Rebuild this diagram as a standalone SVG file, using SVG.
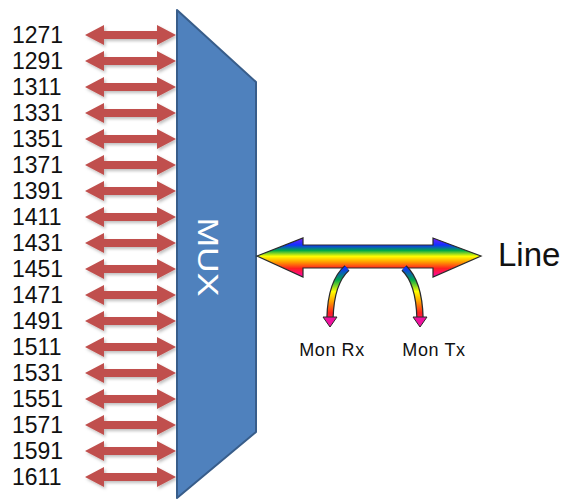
<svg xmlns="http://www.w3.org/2000/svg" xmlns:xlink="http://www.w3.org/1999/xlink" width="565" height="500" viewBox="0 0 565 500">
<style>
.lbl{font-family:"Liberation Sans",Arial,sans-serif;font-size:23px;fill:#111}
.mon{font-family:"Liberation Sans",Arial,sans-serif;font-size:18px;fill:#111;text-anchor:middle;letter-spacing:0.6px}
.ch{fill:#C0504D}
</style>
<defs>
<filter id="sh" x="-10%" y="-50%" width="130%" height="220%">
<feDropShadow dx="1.5" dy="2" stdDeviation="1.5" flood-color="#000" flood-opacity="0.25"/>
</filter>
<path id="dbl" d="M85 0 L104 -10 L104 -4 L157 -4 L157 -10 L176 0 L157 10 L157 4 L104 4 L104 10 Z"/>
<linearGradient id="rb" gradientUnits="userSpaceOnUse" x1="0" y1="238" x2="0" y2="277">
<stop offset="0" stop-color="#7a1cff"/>
<stop offset="0.18" stop-color="#1030ff"/>
<stop offset="0.32" stop-color="#00a84a"/>
<stop offset="0.47" stop-color="#ffff00"/>
<stop offset="0.62" stop-color="#ff9a00"/>
<stop offset="0.78" stop-color="#ff2020"/>
<stop offset="1" stop-color="#ff00b0"/>
</linearGradient>
<linearGradient id="rb2" gradientUnits="userSpaceOnUse" x1="0" y1="268" x2="0" y2="327">
<stop offset="0" stop-color="#1030ff"/>
<stop offset="0.2" stop-color="#00a84a"/>
<stop offset="0.4" stop-color="#ffff00"/>
<stop offset="0.58" stop-color="#ff9a00"/>
<stop offset="0.76" stop-color="#ff2020"/>
<stop offset="1" stop-color="#ff00b0"/>
</linearGradient>
</defs>
<g id="channels">
<g id="ch1271"><use xlink:href="#dbl" href="#dbl" class="ch" filter="url(#sh)" transform="translate(0,35)"/><text class="lbl" x="12" y="43">1271</text></g>
<g id="ch1291"><use xlink:href="#dbl" href="#dbl" class="ch" filter="url(#sh)" transform="translate(0,61)"/><text class="lbl" x="12" y="69">1291</text></g>
<g id="ch1311"><use xlink:href="#dbl" href="#dbl" class="ch" filter="url(#sh)" transform="translate(0,87)"/><text class="lbl" x="12" y="95">1311</text></g>
<g id="ch1331"><use xlink:href="#dbl" href="#dbl" class="ch" filter="url(#sh)" transform="translate(0,113)"/><text class="lbl" x="12" y="121">1331</text></g>
<g id="ch1351"><use xlink:href="#dbl" href="#dbl" class="ch" filter="url(#sh)" transform="translate(0,139)"/><text class="lbl" x="12" y="147">1351</text></g>
<g id="ch1371"><use xlink:href="#dbl" href="#dbl" class="ch" filter="url(#sh)" transform="translate(0,165)"/><text class="lbl" x="12" y="173">1371</text></g>
<g id="ch1391"><use xlink:href="#dbl" href="#dbl" class="ch" filter="url(#sh)" transform="translate(0,191)"/><text class="lbl" x="12" y="199">1391</text></g>
<g id="ch1411"><use xlink:href="#dbl" href="#dbl" class="ch" filter="url(#sh)" transform="translate(0,217)"/><text class="lbl" x="12" y="225">1411</text></g>
<g id="ch1431"><use xlink:href="#dbl" href="#dbl" class="ch" filter="url(#sh)" transform="translate(0,243)"/><text class="lbl" x="12" y="251">1431</text></g>
<g id="ch1451"><use xlink:href="#dbl" href="#dbl" class="ch" filter="url(#sh)" transform="translate(0,269)"/><text class="lbl" x="12" y="277">1451</text></g>
<g id="ch1471"><use xlink:href="#dbl" href="#dbl" class="ch" filter="url(#sh)" transform="translate(0,295)"/><text class="lbl" x="12" y="303">1471</text></g>
<g id="ch1491"><use xlink:href="#dbl" href="#dbl" class="ch" filter="url(#sh)" transform="translate(0,321)"/><text class="lbl" x="12" y="329">1491</text></g>
<g id="ch1511"><use xlink:href="#dbl" href="#dbl" class="ch" filter="url(#sh)" transform="translate(0,347)"/><text class="lbl" x="12" y="355">1511</text></g>
<g id="ch1531"><use xlink:href="#dbl" href="#dbl" class="ch" filter="url(#sh)" transform="translate(0,373)"/><text class="lbl" x="12" y="381">1531</text></g>
<g id="ch1551"><use xlink:href="#dbl" href="#dbl" class="ch" filter="url(#sh)" transform="translate(0,399)"/><text class="lbl" x="12" y="407">1551</text></g>
<g id="ch1571"><use xlink:href="#dbl" href="#dbl" class="ch" filter="url(#sh)" transform="translate(0,425)"/><text class="lbl" x="12" y="433">1571</text></g>
<g id="ch1591"><use xlink:href="#dbl" href="#dbl" class="ch" filter="url(#sh)" transform="translate(0,451)"/><text class="lbl" x="12" y="459">1591</text></g>
<g id="ch1611"><use xlink:href="#dbl" href="#dbl" class="ch" filter="url(#sh)" transform="translate(0,477)"/><text class="lbl" x="12" y="485">1611</text></g>
</g>
<g id="mux">
<polygon points="177,10 256,82 256,432 177,498" fill="#4F81BD" stroke="#385D8A" stroke-width="2" stroke-linejoin="round"/>
<text transform="translate(198,257) rotate(90)" x="0" y="0" text-anchor="middle" font-family="'Liberation Sans',Arial,sans-serif" font-size="29" textLength="79" lengthAdjust="spacingAndGlyphs" fill="#ffffff">MUX</text>
</g>
<g id="connectors">
<polygon points="257,256 303,238 303,245 433,245 433,238 481,256 433,277 433,268 303,268 303,277" fill="url(#rb)" stroke="#2a2a2a" stroke-width="1.2" stroke-linejoin="miter"/>
<path d="M347 268 Q331 282 330 318" fill="none" stroke="#2a2a2a" stroke-width="7.5"/>
<path d="M347 268 Q331 282 330 318" fill="none" stroke="url(#rb2)" stroke-width="5"/>
<polygon points="323,317 337,317 330,327" fill="#f0109f" stroke="#2a2a2a" stroke-width="1"/>
<path d="M404 268 Q419 282 420 318" fill="none" stroke="#2a2a2a" stroke-width="7.5"/>
<path d="M404 268 Q419 282 420 318" fill="none" stroke="url(#rb2)" stroke-width="5"/>
<polygon points="413,317 427,317 420,327" fill="#f0109f" stroke="#2a2a2a" stroke-width="1"/>
</g>
<g id="line"><text x="498" y="266" font-family="'Liberation Sans',Arial,sans-serif" font-size="33" fill="#111">Line</text></g>
<g id="monrx"><text class="mon" x="332" y="356">Mon Rx</text></g>
<g id="montx"><text class="mon" x="434" y="356">Mon Tx</text></g>
</svg>
